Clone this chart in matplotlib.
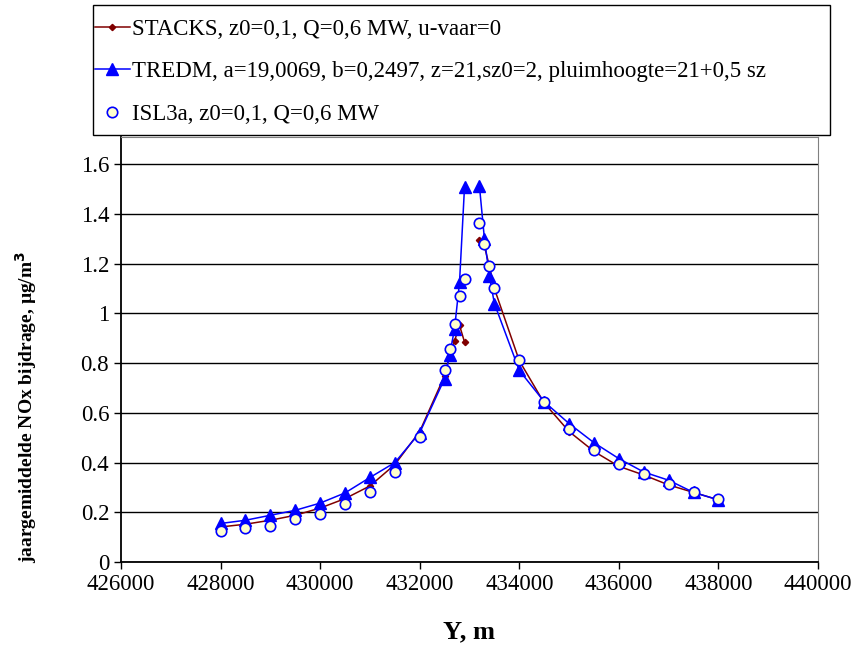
import numpy as np
import matplotlib
matplotlib.use("Agg")
import matplotlib.pyplot as plt
from matplotlib.patches import Rectangle

# --- data ---
# NaN breaks the line where the source rows are empty
stacks_y_pos = [428000, 428500, 429000, 429500, 430000, 430500, 431000, 431500,
                432000, 432500, 432600, 432700, 432800, 432900, 433000,
                433200, 433300, 433400, 433500, 434000, 434500, 435000, 435500,
                436000, 436500, 437000, 437500, 438000]
stacks_nox = [0.141, 0.152, 0.168, 0.188, 0.217, 0.255, 0.306, 0.392,
              0.525, 0.75, 0.83, 0.89, 0.952, 0.885, np.nan,
              1.295, 1.27, 1.19, 1.10, 0.81, 0.64, 0.525, 0.445,
              0.385, 0.35, 0.31, 0.28, 0.25]

tredm_y_pos = [428000, 428500, 429000, 429500, 430000, 430500, 431000, 431500,
               432000, 432500, 432600, 432700, 432800, 432900, 433000,
               433200, 433300, 433400, 433500, 434000, 434500, 435000, 435500,
               436000, 436500, 437000, 437500, 438000]
tredm_nox = [0.155, 0.168, 0.188, 0.208, 0.237, 0.278, 0.34, 0.40,
             0.52, 0.738, 0.832, 0.939, 1.127, 1.509, np.nan,
             1.512, 1.30, 1.15, 1.04, 0.771, 0.645, 0.557, 0.48,
             0.416, 0.362, 0.329, 0.28, 0.25]

isl3a_y_pos = [428000, 428500, 429000, 429500, 430000, 430500, 431000, 431500,
               432000, 432500, 432600, 432700, 432800, 432900,
               433200, 433300, 433400, 433500, 434000, 434500, 435000, 435500,
               436000, 436500, 437000, 437500, 438000]
isl3a_nox = [0.125, 0.135, 0.145, 0.172, 0.192, 0.233, 0.283, 0.362,
             0.503, 0.771, 0.859, 0.959, 1.07, 1.14,
             1.362, 1.281, 1.191, 1.104, 0.814, 0.644, 0.534, 0.449,
             0.393, 0.356, 0.315, 0.282, 0.252]

labels = ["STACKS, z0=0,1, Q=0,6 MW, u-vaar=0",
          "TREDM, a=19,0069, b=0,2497, z=21,sz0=2, pluimhoogte=21+0,5 sz",
          "ISL3a, z0=0,1, Q=0,6 MW"]

plt.rcParams['font.family'] = ['Liberation Serif', 'DejaVu Serif']

W, H = 858, 648
fig = plt.figure(figsize=(W / 100, H / 100), dpi=100)
ax = fig.add_axes([121 / W, 1 - 562 / H, (818 - 121) / W, (562 - 137) / H])

ax.plot(stacks_y_pos, stacks_nox, color='#800000', lw=1.1, marker='D',
        markersize=3.2, label=labels[0], zorder=3)
ax.plot(tredm_y_pos, tredm_nox, color='#0000FF', lw=1.1, marker='^',
        markersize=8, label=labels[1], zorder=4)
ax.plot(isl3a_y_pos, isl3a_nox, linestyle='none', marker='o', markersize=7.5,
        markerfacecolor='#FFFFCC', markeredgecolor='#0000FF', markeredgewidth=1.2,
        label=labels[2], zorder=5)

ax.set_xlim(426000, 440000)
ax.set_ylim(0, 1.71)
ax.set_xticks(np.arange(426000, 440001, 2000))
ax.set_yticks(np.arange(0, 1.61, 0.2))
ax.set_yticklabels(['0', '0.2', '0.4', '0.6', '0.8', '1', '1.2', '1.4', '1.6'])
ax.yaxis.grid(True, color='black', lw=1.0)
ax.set_axisbelow(True)
ax.tick_params(direction='out', length=5, width=1, labelsize=16.5, colors='black')

for side in ['top', 'right']:
    ax.spines[side].set_color('#808080')
for side in ['left', 'bottom']:
    ax.spines[side].set_linewidth(1.3)

fig.text(469 / W, 1 - 632 / H, "Y, m", ha='center', va='center',
         fontsize=19, fontweight='bold')
fig.text(26 / W, 1 - 407 / H, "jaargemiddelde NOx bijdrage, µg/m$^\\mathbf{3}$",
         ha='center', va='center', rotation=90, fontsize=14, fontweight='bold')

# legend box drawn by hand so the frame matches the original size
fig.patches.append(Rectangle((93 / W, 1 - 135 / H), (830 - 93) / W, 130 / H,
                             transform=fig.transFigure, fill=False,
                             edgecolor='black', lw=1.0, zorder=10))
leg = fig.legend(loc='upper left', bbox_to_anchor=(93 / W, 1 - 17 / H),
                 fontsize=16.5, frameon=False, handlelength=1.5,
                 handletextpad=0.1, labelspacing=0.92, borderpad=0.1,
                 borderaxespad=0)

fig.savefig("out.png", dpi=100)
